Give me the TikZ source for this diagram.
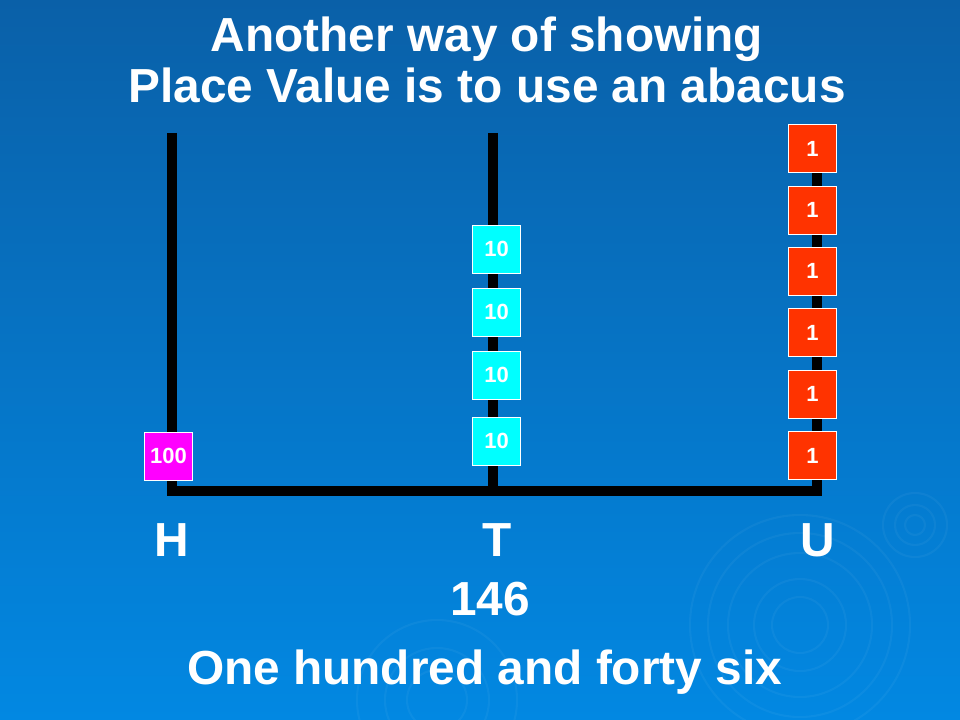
\documentclass[tikz,border=0pt]{standalone}
\usepackage{fontspec}
\setmainfont{Liberation Sans}
\usetikzlibrary{positioning}
\definecolor{slidetop}{RGB}{10,96,168}
\definecolor{slidebottom}{RGB}{2,136,226}
\definecolor{beadred}{RGB}{255,51,0}
\definecolor{beadcyan}{RGB}{0,255,255}
\definecolor{beadpink}{RGB}{255,0,255}

\begin{document}
\begin{tikzpicture}[x=0.2mm, y=-0.2mm, node distance=2.8mm]
\tikzstyle{bead} = [rectangle, draw=white, line width=0.5pt, minimum size=9.6mm, inner sep=0pt, text=white, font=\fontsize{12.5}{14}\selectfont\bfseries]
\tikzstyle{rod} = [line width=2mm, black, line join=miter]
\tikzstyle{big} = [text=white, font=\fontsize{27.2}{32}\selectfont\bfseries, inner sep=0pt, anchor=base]
\tikzstyle{ripple} = [white, opacity=0.045, line width=1.2pt]
% background
\shade[top color=slidetop, bottom color=slidebottom] (0,0) rectangle (960,720);
\useasboundingbox (0,0) rectangle (960,720);
\foreach \r in {28,46,72,92,110} \draw[ripple] (800,625) circle (\r);
\foreach \r in {10,20,32} \draw[ripple] (915,525) circle (\r);
\foreach \r in {30,52,80} \draw[ripple] (437,700) circle (\r);
% title
\node[big] (title1) at (487,52) {Another way of showing};
\node[big] (title2) at (487,103) {Place Value is to use an abacus};
% the abacus frame
\coordinate (Htop) at (172,133);
\coordinate (Hfoot) at (172,491);
\coordinate (Ttop) at (493,133);
\coordinate (Tfoot) at (493,491);
\coordinate (Utop) at (817,133);
\coordinate (Ufoot) at (817,491);
\draw[rod] (Htop) -- (Hfoot) -- (Ufoot) -- (Utop);
\draw[rod] (Ttop) -- (Tfoot);
% hundreds
\node[bead, fill=beadpink] (hundred) at (168.5,456) {100};
% tens
\node[bead, fill=beadcyan] (ten1) at (496.5,441) {10};
\node[bead, fill=beadcyan, above=3.4mm of ten1] (ten2) {10};
\node[bead, fill=beadcyan, above=of ten2] (ten3) {10};
\node[bead, fill=beadcyan, above=of ten3] (ten4) {10};
% units
\node[bead, fill=beadred] (one1) at (812.5,455.5) {1};
\node[bead, fill=beadred, above=2.5mm of one1] (one2) {1};
\node[bead, fill=beadred, above=2.5mm of one2] (one3) {1};
\node[bead, fill=beadred, above=2.5mm of one3] (one4) {1};
\node[bead, fill=beadred, above=2.5mm of one4] (one5) {1};
\node[bead, fill=beadred, above=2.5mm of one5] (one6) {1};
% column labels
\node[big] (labH) at (172,556) {H};
\node[big] (labT) at (497.5,556) {T};
\node[big] (labU) at (817.5,556) {U};
\node[big] (number) at (490,615) {146};
\node[big] (words) at (484.5,684) {One hundred and forty six};
\end{tikzpicture}
\end{document}
